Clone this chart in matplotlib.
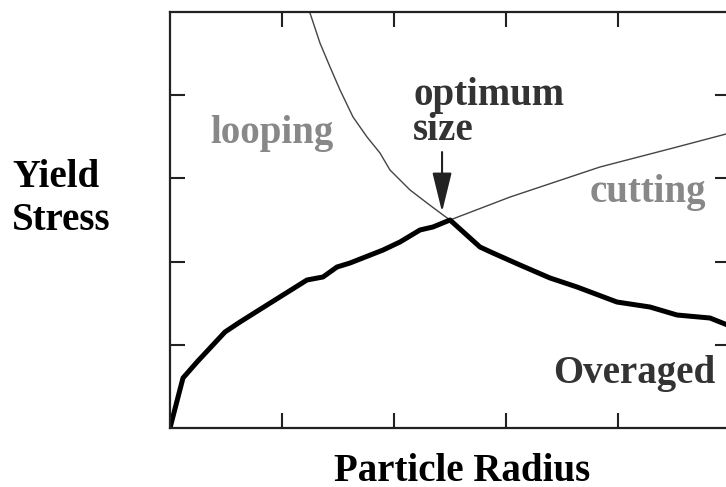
import numpy as np
import matplotlib.pyplot as plt

# aged alloy strength (thick curve)
aged_x = [0, 0.116, 0.241, 0.491, 0.625, 0.866, 1.223, 1.366, 1.491, 1.607, 1.902,
          2.054, 2.232, 2.348, 2.5, 2.768, 2.884, 3.125, 3.393, 3.634, 3.991,
          4.286, 4.527, 4.821, 5.0]
aged_y = [0, 0.601, 0.793, 1.154, 1.274, 1.478, 1.779, 1.815, 1.935, 1.983, 2.139,
          2.236, 2.380, 2.416, 2.5, 2.175, 2.103, 1.959, 1.803, 1.695, 1.514,
          1.454, 1.358, 1.322, 1.226]

# looping mechanism (thin, falling)
loop_x = [1.232, 1.25, 1.339, 1.429, 1.518, 1.634, 1.759, 1.875, 1.964, 2.143,
          2.295, 2.438, 2.5]
loop_y = [5.08, 4.988, 4.627, 4.339, 4.063, 3.738, 3.498, 3.305, 3.101, 2.861,
          2.704, 2.560, 2.5]

# cutting mechanism (thin, rising)
cut_x = [2.5, 3.036, 3.839, 4.491, 5.0]
cut_y = [2.5, 2.776, 3.137, 3.365, 3.546]

ticks = [1, 2, 3, 4]

W, H = 726, 487
fig = plt.figure(figsize=(W / 100, H / 100), dpi=100)
ax = fig.add_axes([170 / W, (H - 428) / H, 560 / W, 416 / H])

ax.plot(loop_x, loop_y, color='#444444', lw=1.0)
ax.plot(cut_x, cut_y, color='#444444', lw=1.0)
ax.plot(aged_x, aged_y, color='black', lw=3.6, solid_joinstyle='round')

ax.set_xlim(0, 5)
ax.set_ylim(0, 5)
ax.set_xticks(ticks)
ax.set_yticks(ticks)
ax.set_xticklabels([])
ax.set_yticklabels([])
ax.tick_params(direction='in', length=11, width=1.5, color='#222222',
               top=True, right=True)
for s in ax.spines.values():
    s.set_linewidth(1.6)
    s.set_color('#222222')

font = dict(family='Liberation Serif', weight='bold', size=28)

ax.annotate('', xy=(2.429, 2.596), xytext=(2.429, 3.317),
            arrowprops=dict(arrowstyle='-|>,head_length=2.45,head_width=0.6',
                            mutation_scale=10, shrinkA=0, shrinkB=0,
                            color='#222222', lw=1.5))

ax.text(2.17, 3.88, 'optimum', color='#333333', **font)
ax.text(2.17, 3.46, 'size', color='#333333', **font)
ax.text(0.357, 3.425, 'looping', color='#888888', **font)
ax.text(3.75, 2.716, 'cutting', color='#888888', **font)
ax.text(3.42, 0.54, 'Overaged', color='#333333', **font)

fig.text(12 / W, 1 - 187 / H, 'Yield', color='black', **font)
fig.text(12 / W, 1 - 230 / H, 'Stress', color='black', **font)
fig.text(462 / W, 1 - 481 / H, 'Particle Radius', color='black', ha='center', **font)

fig.savefig('out.png', dpi=100)
